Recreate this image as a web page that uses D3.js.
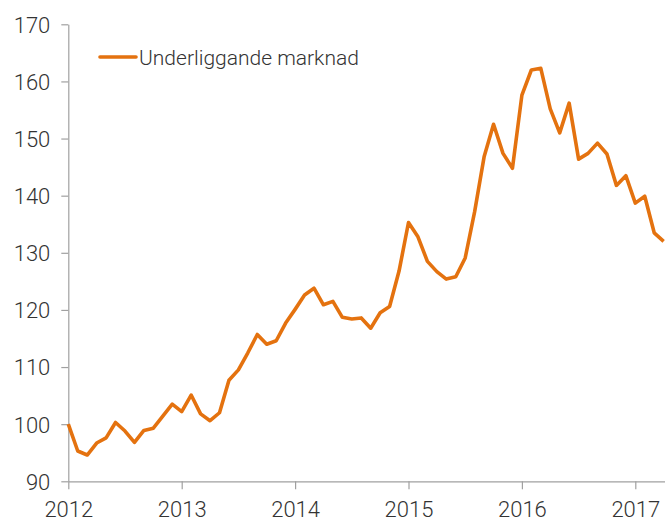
<!DOCTYPE html>
<html>
<head>
<meta charset="utf-8">
<script src="https://cdn.jsdelivr.net/npm/d3@7"></script>
<style>
  body { margin: 0; background: #fff; }
  svg { display: block; font-family: Roboto, sans-serif; font-weight: 300; }
</style>
</head>
<body>
<div class="chart-container"></div>
<script>
// monthly values, Jan 2012 - Apr 2017
const startYear = 2012;
const values = [
  100.0, 95.3, 94.6, 96.7, 97.6, 100.3, 98.8, 96.8, 98.9, 99.3, 101.4, 103.5,
  102.2, 105.1, 101.8, 100.6, 102.0, 107.7, 109.5, 112.5, 115.7, 114.0, 114.6, 117.7,
  120.1, 122.6, 123.8, 120.9, 121.5, 118.7, 118.4, 118.6, 116.8, 119.5, 120.6, 126.8,
  135.3, 132.8, 128.5, 126.7, 125.4, 125.8, 129.1, 137.2, 146.8, 152.5, 147.4, 144.8,
  157.6, 162.0, 162.3, 155.2, 151.0, 156.2, 146.4, 147.4, 149.2, 147.3, 141.8, 143.5,
  138.7, 139.9, 133.5, 132.0
];
const yTicks = [90, 100, 110, 120, 130, 140, 150, 160, 170];
const xTicks = [2012, 2013, 2014, 2015, 2016, 2017];
const seriesName = "Underliggande marknad";

function draw() {
    const width = 665;
    const height = 522;
    const left = 68.3, top = 24.3, bottom = 481.3;
    const yearPx = 113.4;

    const x = d3.scaleLinear()
        .domain([2012, 2012 + (width - left) / yearPx])
        .range([left, width]);
    const y = d3.scaleLinear()
        .domain([90, 170])
        .range([bottom, top]);

    const svg = d3.select('.chart-container').append("svg")
        .attr("width", width)
        .attr("height", height);

    const gx = svg.append("g")
        .attr("transform", `translate(0,${bottom})`)
        .call(d3.axisBottom(x).tickValues(xTicks).tickFormat(d3.format("d")).tickSize(8).tickSizeOuter(0));

    const gy = svg.append("g")
        .attr("transform", `translate(${left},0)`)
        .call(d3.axisLeft(y).tickValues(yTicks).tickSize(7).tickSizeOuter(0));

    [gx, gy].forEach(g => {
        g.select(".domain").attr("stroke", "#a0a0a0").attr("stroke-width", 1.2);
        g.selectAll(".tick line").attr("stroke", "#a0a0a0").attr("stroke-width", 1.2);
        g.selectAll(".tick text").attr("fill", "#333").attr("font-size", 22)
            .attr("font-family", "Roboto, sans-serif").attr("font-weight", 300);
    });
    // x labels sit right at the bottom edge, as in the original
    gx.selectAll(".tick text").attr("y", 35.5).attr("dy", 0);
    gy.selectAll(".tick text").attr("x", -18).attr("dy", "0.36em");

    const line = d3.line()
        .x((d, i) => x(startYear + i / 12))
        .y(d => y(d));

    svg.append("path")
        .datum(values)
        .attr("fill", "none")
        .attr("stroke", "#e4720f")
        .attr("stroke-width", 3.6)
        .attr("stroke-linejoin", "round")
        .attr("d", line);

    // legend
    const legend = svg.append("g").attr("transform", "translate(100,57)");
    legend.append("line")
        .attr("x1", 0).attr("x2", 36)
        .attr("stroke", "#e4720f").attr("stroke-width", 3.6).attr("stroke-linecap", "round");
    legend.append("text")
        .attr("x", 39).attr("y", 7.5)
        .attr("fill", "#333")
        .attr("font-size", 21)
        .text(seriesName);
}

draw();
</script>
</body>
</html>
